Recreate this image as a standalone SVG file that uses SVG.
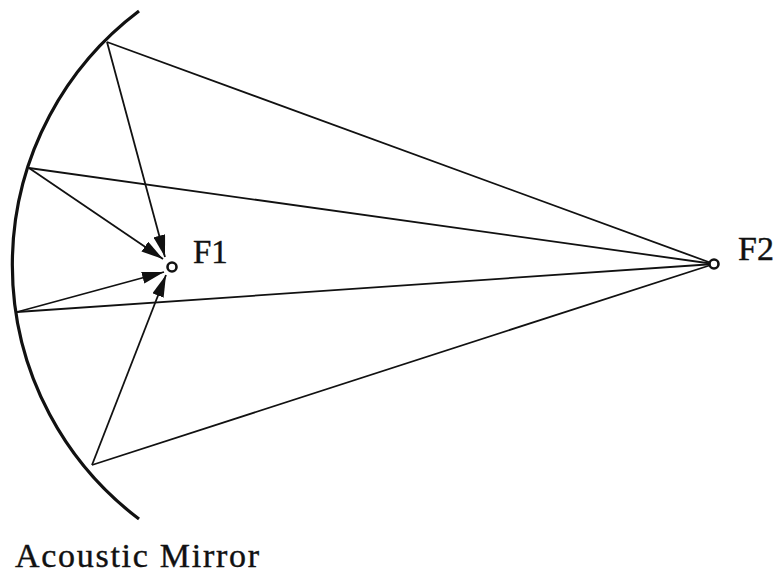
<svg xmlns="http://www.w3.org/2000/svg" width="781" height="576" viewBox="0 0 781 576">
<style>
.ray{stroke:#111;stroke-width:1.8;fill:none}
.mirror{stroke:#111;stroke-width:3.2;fill:none}
.focus{stroke:#111;stroke-width:2.6;fill:#fff}
.lbl{font-family:"Liberation Serif","Times New Roman",serif;fill:#111;stroke:#111;stroke-width:0.4}
</style>
<defs>
<marker id="ah" viewBox="0 0 22 12" refX="22" refY="6" markerWidth="22" markerHeight="12" markerUnits="userSpaceOnUse" orient="auto">
<path d="M0,0 L22,6 L0,12 Z" fill="#111"/>
</marker>
</defs>
<rect width="781" height="576" fill="#fff"/>
<g id="mirror">
<path class="mirror" d="M139,11 A318,318 0 0 0 139,519"/>
<text class="lbl" x="15" y="567" font-size="34" textLength="244" lengthAdjust="spacing">Acoustic Mirror</text>
</g>
<g id="connectors">
<line class="ray" x1="107" y1="42" x2="714" y2="264"/>
<line class="ray" x1="29" y1="168" x2="714" y2="264"/>
<line class="ray" x1="17" y1="312" x2="714" y2="264"/>
<line class="ray" x1="92" y1="465" x2="714" y2="264"/>
<line class="ray" x1="107" y1="42" x2="165" y2="257" marker-end="url(#ah)"/>
<line class="ray" x1="29" y1="168" x2="163" y2="259" marker-end="url(#ah)"/>
<line class="ray" x1="17" y1="312" x2="164" y2="272" marker-end="url(#ah)"/>
<line class="ray" x1="92" y1="465" x2="166" y2="275" marker-end="url(#ah)"/>
</g>
<g id="F1">
<circle class="focus" cx="172" cy="267" r="4.5"/>
<text class="lbl" x="193" y="263" font-size="33">F1</text>
</g>
<g id="F2">
<circle class="focus" cx="714" cy="264" r="4.5"/>
<text class="lbl" x="738" y="260" font-size="34">F2</text>
</g>
</svg>
